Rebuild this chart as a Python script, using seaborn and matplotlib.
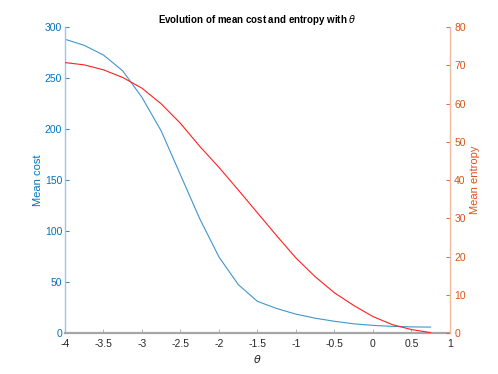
import matplotlib
matplotlib.use("Agg")
import matplotlib.pyplot as plt
import seaborn as sns
import pandas as pd

theta = [-4.0, -3.75, -3.5, -3.25, -3.0, -2.75, -2.5, -2.25, -2.0, -1.75, -1.5,
         -1.25, -1.0, -0.75, -0.5, -0.25, 0.0, 0.25, 0.5, 0.75]
mean_cost = [288, 282, 272.5, 257, 231, 198, 155, 112, 74.5, 47.5, 31,
             24, 18.5, 14.5, 11.5, 9, 7.5, 6.5, 6, 5.8]
mean_entropy = [70.7, 70.1, 68.8, 66.8, 64.0, 59.9, 54.8, 48.8, 43.3, 37.4, 31.4,
                25.4, 19.6, 14.7, 10.5, 7.2, 4.3, 2.2, 0.9, 0.1]
xticks = [-4, -3.5, -3, -2.5, -2, -1.5, -1, -0.5, 0, 0.5, 1]
xtick_labels = ["-4", "-3.5", "-3", "-2.5", "-2", "-1.5", "-1", "-0.5", "0", "0.5", "1"]
cost_ticks = [0, 50, 100, 150, 200, 250, 300]
entropy_ticks = [0, 10, 20, 30, 40, 50, 60, 70, 80]

sns.set_theme(style="white")
plt.rcParams['font.family'] = ['Liberation Sans', 'DejaVu Sans']
plt.rcParams['axes.unicode_minus'] = False
plt.rcParams['mathtext.fontset'] = 'dejavusans'

blue = "#0072BD"
orange = "#D95319"
red = "#FF2020"
grey = "#A6A6A6"

df = pd.DataFrame({"theta": theta, "cost": mean_cost, "entropy": mean_entropy})

fig = plt.figure(figsize=(4.98, 3.74), dpi=100)
ax = fig.add_axes([0.1305, 0.1096, 0.7731, 0.8182])
ax2 = ax.twinx()

sns.lineplot(data=df, x="theta", y="cost", ax=ax, color=blue, linewidth=0.8, alpha=0.75)
sns.lineplot(data=df, x="theta", y="entropy", ax=ax2, color=red, linewidth=0.8)

ax.set_xlim(-4, 1)
ax.set_ylim(0, 300)
ax2.set_ylim(0, 80)
ax.set_xticks(xticks)
ax.set_xticklabels(xtick_labels)
ax.set_yticks(cost_ticks)
ax2.set_yticks(entropy_ticks)

for a in (ax, ax2):
    for s in ('top', 'left', 'right', 'bottom'):
        a.spines[s].set_visible(False)
    a.grid(False)

ax.spines['left'].set_visible(True)
ax.spines['left'].set_color("#9CC6E6")
ax.spines['left'].set_linewidth(1.0)
ax.spines['bottom'].set_visible(True)
ax.spines['bottom'].set_color(grey)
ax.spines['bottom'].set_linewidth(1.6)
ax2.spines['right'].set_visible(True)
ax2.spines['right'].set_color("#F2B9A0")
ax2.spines['right'].set_linewidth(1.0)

ax.tick_params(axis='x', direction='in', length=3, width=0.6, colors=grey,
               labelcolor="#262626", labelsize=7.5, pad=4, bottom=True)
ax.tick_params(axis='y', direction='in', length=3, width=0.6, colors=blue,
               labelsize=7.5, pad=2, left=True)
ax2.tick_params(axis='y', direction='in', length=3, width=0.6, colors=orange,
                labelsize=7.5, pad=3, right=True)

ax.set_xlabel(r"$\theta$", fontsize=8, color="#262626", labelpad=3)
ax.set_ylabel("Mean cost", fontsize=8, color=blue, labelpad=1)
ax2.set_ylabel("Mean entropy", fontsize=8, color=orange, labelpad=3)
ax.set_title(r"Evolution of mean cost and entropy with $\theta$", fontsize=7,
             fontweight='bold', color="black", pad=3)

fig.savefig("out.png", dpi=100)
